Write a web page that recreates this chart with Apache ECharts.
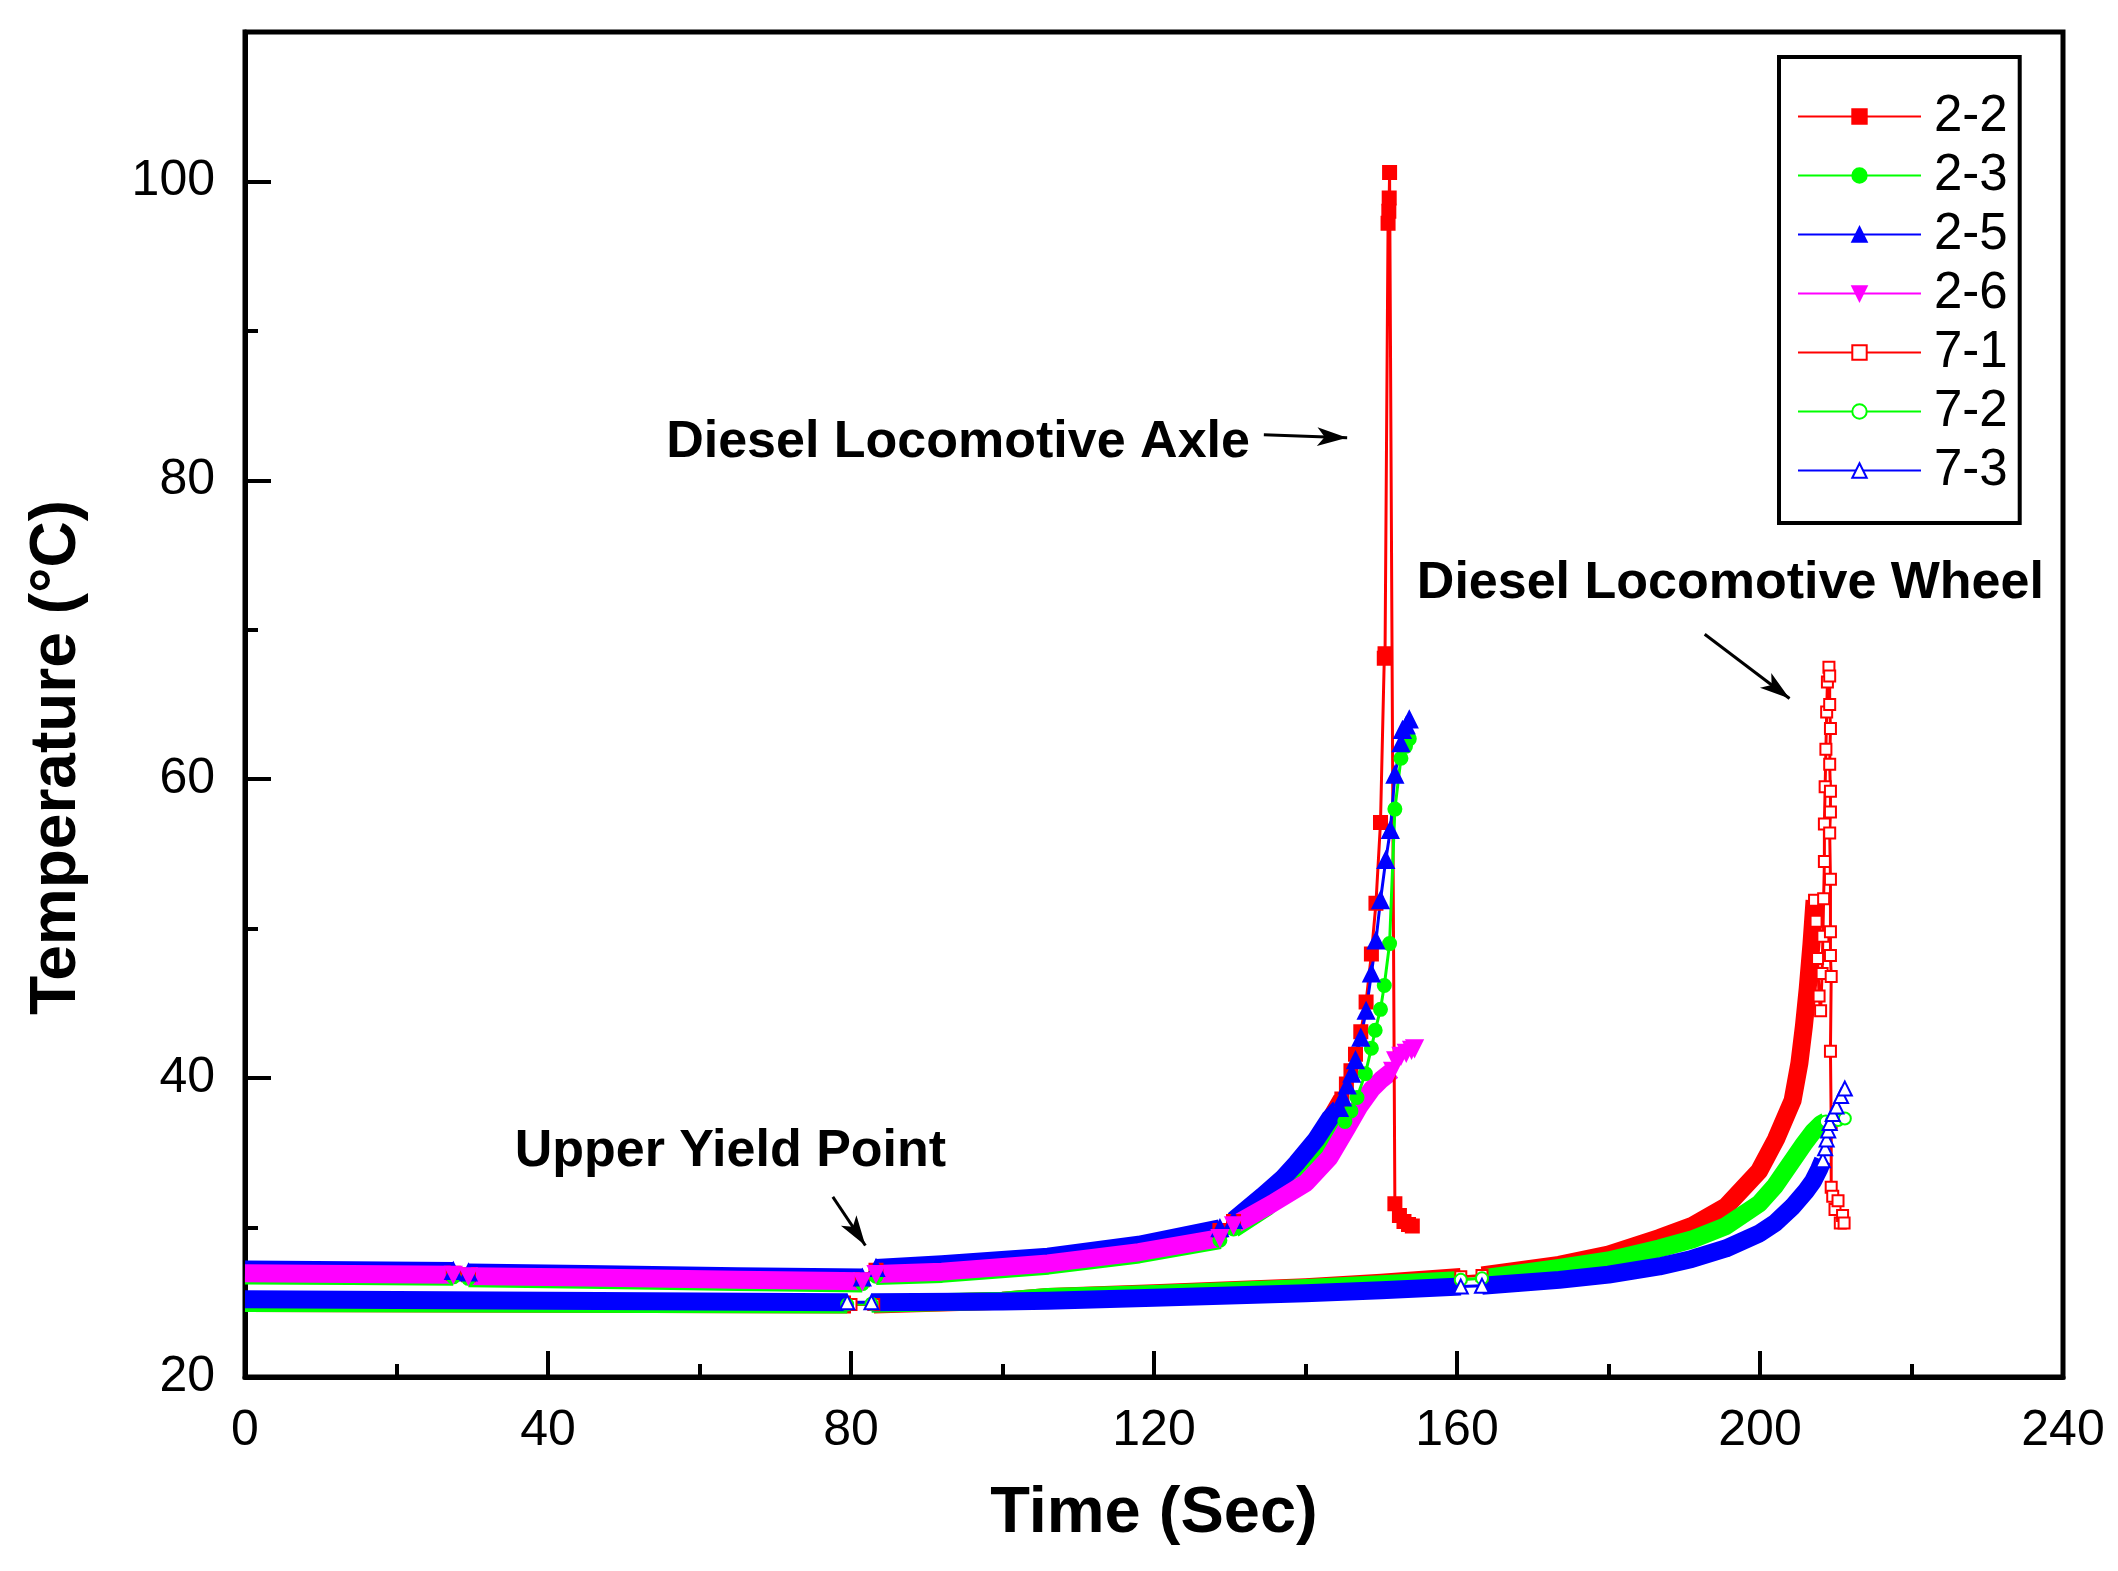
<!DOCTYPE html>
<html>
<head>
<meta charset="utf-8">
<title>Temperature vs Time</title>
<script src="https://cdn.jsdelivr.net/npm/echarts@6/dist/echarts.min.js"></script>
<style>
  html, body { margin: 0; padding: 0; background: #fff; }
  #chart { width: 2118px; height: 1571px; }
</style>
</head>
<body>
<div id="chart"></div>
<script>
// values: [time (s), temperature (°C)]
// *Band = densely logged part (drawn as a thick stroke), null = logging gap
// *Tail = sparse part where single markers are visible
const names = ['2-2', '2-3', '2-5', '2-6', '7-1', '7-2', '7-3'];
const timeRange = [0, 240];
const tempRange = [20, 110];
const timeStep = 40;
const tempStep = 20;

const s22Band = [[0, 27.05], [14, 27.0], [27.5, 26.95], null, [29.5, 26.85], [45, 26.75], [65, 26.6], [81.5, 26.5], null,
  [83.3, 27.15], [92, 27.4], [106, 27.9], [118, 28.7], [128.7, 29.8], null,
  [130.5, 30.4], [134.3, 31.9], [137, 33.2], [138.8, 34.2], [141.4, 35.8], [143.2, 37.2], [144.8, 38.6]];
const s22Tail = [[145.4, 39.6], [146.0, 40.5], [146.6, 41.6], [147.3, 43.1], [148.0, 45.1], [148.7, 48.3], [149.3, 51.7],
  [149.9, 57.1], [150.4, 68.1], [150.5, 68.4], [150.9, 97.2], [151.0, 98.0], [151.05, 98.9], [151.1, 100.6],
  [151.8, 31.6], [152.4, 30.8], [153.0, 30.4], [153.6, 30.2], [154.1, 30.1]];

const s23Band = [[0, 26.8], [14, 26.75], [27.5, 26.7], null, [29.5, 26.6], [45, 26.5], [65, 26.35], [81.5, 26.25], null,
  [83.3, 26.75], [92, 26.9], [106, 27.45], [118, 28.2], [128.7, 29.15], null,
  [130.5, 29.9], [135, 31.4], [139, 33.2], [142, 35.0], [144, 36.3], [145.2, 37.1]];
const s23Tail = [[146.0, 37.8], [146.8, 38.7], [147.9, 40.3], [148.7, 42.0], [149.2, 43.2], [149.9, 44.6], [150.4, 46.2],
  [151.1, 49.0], [151.8, 58.0], [152.6, 61.4], [153.2, 62.2], [153.7, 62.7]];

const s25Band = [[0, 27.2], [14, 27.15], [27.5, 27.1], null, [29.5, 27.0], [45, 26.9], [65, 26.75], [81.5, 26.65], null,
  [83.3, 27.3], [92, 27.55], [106, 28.05], [118, 28.85], [128.7, 29.95], null,
  [130.5, 30.5], [134.3, 32.1], [137, 33.3], [138.8, 34.3], [141.4, 35.9], [143.2, 37.3], [144.5, 38.0]];
const s25Tail = [[144.9, 38.7], [145.5, 39.5], [146.1, 40.3], [146.6, 41.2], [147.3, 42.7], [148.0, 44.5], [148.7, 47.0],
  [149.3, 49.2], [149.9, 51.9], [150.6, 54.6], [151.2, 56.6], [151.8, 60.3], [152.6, 62.4], [152.8, 63.3],
  [153.3, 63.6], [153.7, 64.0]];

const s26Band = [[0, 26.95], [14, 26.9], [27.5, 26.85], null, [29.5, 26.75], [45, 26.65], [65, 26.5], [81.5, 26.4], null,
  [83.3, 26.9], [92, 27.05], [106, 27.6], [118, 28.35], [128.7, 29.3], null,
  [130.5, 30.15], [135.6, 31.6], [140.1, 33.0], [143.2, 34.7], [145.4, 36.6], [147.1, 38.1], [148.8, 39.3],
  [150.0, 39.9], [151.5, 40.5]];
const s26Tail = [[151.9, 41.2], [152.6, 41.5], [153.3, 41.7], [154.0, 41.9], [154.4, 42.0]];

const s71Band = [[0, 24.95], [40, 24.9], [80, 24.85], null, [83, 24.85], [100, 25.1], [106, 25.35], [120, 25.6],
  [140, 26.0], [150, 26.3], [160.5, 26.7], null, [163.3, 26.8], [173.5, 27.5], [180, 28.2], [186.7, 29.3],
  [191, 30.1], [195.5, 31.4], [199.9, 33.8], [202.1, 35.9], [204.3, 38.5], [205.2, 41.0], [205.8, 43.5],
  [206.3, 46.0], [206.8, 49.0], [207.2, 51.9]];
const s71Tail = [[207.4, 50.5], [207.6, 48.0], [207.8, 45.5], [208.0, 44.5], [208.2, 47.0], [208.3, 49.5], [208.4, 52.0],
  [208.5, 54.5], [208.5, 57.0], [208.6, 59.5], [208.7, 62.0], [208.8, 64.5], [208.9, 66.5], [209.1, 67.5],
  [209.2, 66.9], [209.2, 65.0], [209.3, 63.4], [209.2, 61.0], [209.3, 59.2], [209.3, 57.8], [209.2, 56.4],
  [209.3, 53.3], [209.3, 49.8], [209.3, 48.2], [209.4, 46.8], [209.3, 41.8], [209.4, 37.0], [209.4, 32.7],
  [209.6, 32.1], [209.9, 31.2], [210.3, 31.8], [210.6, 30.3], [210.9, 30.8], [211.1, 30.3]];

const s72Band = [[0, 24.95], [40, 24.9], [79.5, 24.85], null, [82.7, 24.9], [100, 25.1], [106, 25.35], [120, 25.55],
  [140, 25.95], [150, 26.2], [160.5, 26.5], null, [163.3, 26.6], [173.5, 27.3], [180, 27.8], [186.7, 28.6],
  [191, 29.2], [195.5, 30.1], [199.9, 31.6], [202, 32.8], [204.3, 34.5], [205.8, 35.6], [207, 36.4],
  [208, 36.9], [208.7, 37.1]];
const s72Tail = [[209.5, 37.15], [210.3, 37.2], [211.2, 37.3]];

const s73Band = [[0, 25.2], [20, 25.15], [40, 25.1], [60, 25.05], [79.5, 25.0], null, [82.7, 25.0], [100, 25.05],
  [106, 25.1], [120, 25.3], [140, 25.6], [150, 25.8], [160.5, 26.05], null, [163.3, 26.1], [173.5, 26.5],
  [180, 26.85], [186.7, 27.4], [191, 27.9], [195.5, 28.6], [199.9, 29.6], [202, 30.3], [204.3, 31.4],
  [206, 32.4], [207, 33.1], [207.8, 33.9], [208.3, 34.5]];
const s73Tail = [[208.6, 35.3], [208.8, 35.9], [209.0, 36.5], [209.2, 37.0], [209.6, 37.6], [210.1, 38.1],
  [210.7, 38.8], [211.2, 39.3]];

const annotations = [
  { text: 'Diesel Locomotive Axle', at: [55.6, 82.5] },
  { text: 'Diesel Locomotive Wheel', at: [154.7, 73.1] },
  { text: 'Upper Yield Point', at: [35.6, 35.1] }
];
const arrows = [
  [[134.5, 83.05], [145.5, 82.85]],
  [[192.7, 69.7], [203.9, 65.4]],
  [[77.6, 32.05], [81.9, 28.8]]
];

const font = '"Liberation Sans", Arial, Helvetica, sans-serif';
const RED = '#ff0000', GREEN = '#00ff00', BLUE = '#0000ff', MAGENTA = '#ff00ff';

const defs = [
  { name: names[0], color: RED, symbol: 'rect', size: 13, band: s22Band, tail: s22Tail },
  { name: names[1], color: GREEN, symbol: 'circle', size: 13, band: s23Band, tail: s23Tail },
  { name: names[2], color: BLUE, symbol: 'triangle', size: 16, band: s25Band, tail: s25Tail },
  { name: names[3], color: MAGENTA, symbol: 'triangle', rotate: 180, size: 16, band: s26Band, tail: s26Tail },
  { name: names[4], color: RED, symbol: 'emptyRect', size: 11, band: s71Band, tail: s71Tail },
  { name: names[5], color: GREEN, symbol: 'emptyCircle', size: 12, band: s72Band, tail: s72Tail },
  { name: names[6], color: BLUE, symbol: 'emptyTriangle', size: 14, band: s73Band, tail: s73Tail }
];

// null -> break in the thick stroke
function bandLine(band) {
  return band.map((p, i) => (p === null ? [band[i - 1][0], null] : p));
}
// thin connectors across the gaps, then the sparse tail
function markLinePoints(band, tail) {
  const out = [];
  band.forEach((p, i) => {
    if (p === null) out.push(band[i - 1], band[i + 1], [band[i + 1][0], null]);
  });
  return out.concat([band[band.length - 1]], tail);
}

const markSeries = defs.map(d => ({
  name: d.name,
  type: 'line',
  data: markLinePoints(d.band, d.tail),
  symbol: d.symbol,
  symbolSize: d.size,
  symbolRotate: d.rotate || 0,
  z: 3,
  lineStyle: { color: d.color, width: 3 },
  itemStyle: { color: d.color, borderColor: d.color, borderWidth: 2 },
  emphasis: { disabled: true }
}));

const bandSeries = defs.map(d => ({
  name: d.name,
  type: 'line',
  data: bandLine(d.band),
  symbol: 'none',
  z: 2,
  silent: true,
  lineStyle: { color: d.color, width: 18, cap: 'butt', join: 'round' },
  emphasis: { disabled: true }
}));

markSeries[0].markLine = {
  silent: true,
  symbol: ['none', 'arrow'],
  symbolSize: [14, 30],
  lineStyle: { color: '#000', width: 3, type: 'solid' },
  label: { show: false },
  emphasis: { disabled: true },
  data: arrows.map(a => [{ coord: a[0] }, { coord: a[1] }])
};

const chart = echarts.init(document.getElementById('chart'));
const tickStyle = { color: '#000', width: 4 };

chart.setOption({
  animation: false,
  backgroundColor: '#fff',
  textStyle: { fontFamily: font },
  grid: {
    left: 245, right: 55, top: 32, bottom: 194,
    show: true, borderColor: '#000', borderWidth: 5,
    outerBoundsMode: 'none'
  },
  legend: {
    data: names,
    orient: 'vertical',
    left: 1779, top: 57,
    itemWidth: 123, itemHeight: 18, itemGap: 8,
    padding: [34, 12, 27, 18],
    borderColor: '#000', borderWidth: 4, backgroundColor: '#fff',
    selectedMode: false,
    textStyle: { fontSize: 51, color: '#000', fontFamily: font, lineHeight: 16, padding: [0, 0, 0, 8] }
  },
  xAxis: {
    type: 'value',
    min: timeRange[0], max: timeRange[1], interval: timeStep,
    name: 'Time (Sec)', nameLocation: 'middle', nameGap: 105,
    nameTextStyle: { fontSize: 65, fontWeight: 'bold', color: '#000', fontFamily: font },
    axisLine: { show: true, onZero: false, lineStyle: { color: '#000', width: 5 } },
    axisTick: { show: true, inside: true, length: 26, lineStyle: tickStyle },
    minorTick: { show: true, splitNumber: 2, length: 13, lineStyle: tickStyle },
    axisLabel: { fontSize: 50, color: '#000', margin: 29, fontFamily: font },
    splitLine: { show: false },
    minorSplitLine: { show: false }
  },
  yAxis: [
    {
      type: 'value',
      min: tempRange[0], max: tempRange[1], interval: tempStep,
      name: 'Temperature (°C)', nameLocation: 'middle', nameGap: 156, nameRotate: 90,
      nameTextStyle: { fontSize: 64, fontWeight: 'bold', color: '#000', fontFamily: font, padding: [0, 106, 0, 0] },
      axisLine: { show: true, onZero: false, lineStyle: { color: '#000', width: 5 } },
      axisTick: { show: true, inside: true, length: 26, lineStyle: tickStyle },
      axisLabel: { fontSize: 50, color: '#000', margin: 30, fontFamily: font, showMaxLabel: false },
      splitLine: { show: false }
    },
    {
      // minor ticks every 10 °C
      type: 'value',
      min: tempRange[0], max: tempRange[1], interval: tempStep / 2,
      position: 'left',
      axisLine: { show: false },
      axisTick: { show: true, inside: true, length: 13, lineStyle: tickStyle },
      axisLabel: { show: false },
      splitLine: { show: false }
    }
  ],
  series: markSeries.concat(bandSeries)
});

chart.setOption({
  graphic: annotations.map(a => {
    const p = chart.convertToPixel({ gridIndex: 0 }, a.at);
    return {
      type: 'text',
      x: p[0], y: p[1],
      z: 10,
      style: {
        text: a.text,
        fill: '#000',
        font: 'bold 52px ' + font,
        align: 'left',
        verticalAlign: 'middle'
      }
    };
  })
});
</script>
</body>
</html>
